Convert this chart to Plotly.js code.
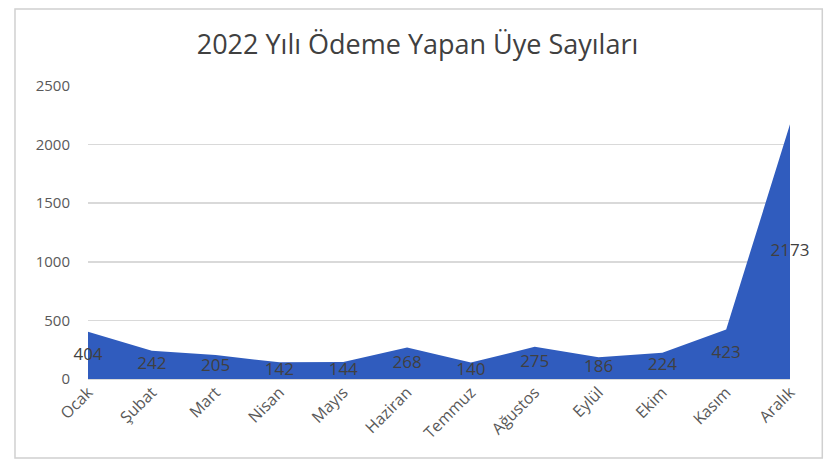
<!DOCTYPE html>
<html><head><meta charset="utf-8">
<script src="https://cdn.plot.ly/plotly-3.0.1.min.js"></script>
<style>html,body{margin:0;padding:0;background:#fff}#chart{width:835px;height:466px}</style>
</head><body><div id="chart"></div>
<script>
const months = ["Ocak","Şubat","Mart","Nisan","Mayıs","Haziran","Temmuz","Ağustos","Eylül","Ekim","Kasım","Aralık"];
const members = [404,242,205,142,144,268,140,275,186,224,423,2173];
const yTicks = [0,500,1000,1500,2000,2500];

const font = "Open Sans, DejaVu Sans, sans-serif";
const area = {
  type: "scatter", mode: "lines", x: months, y: members,
  fill: "tozeroy", fillcolor: "#305CBE",
  line: {color: "#305CBE", width: 0}, hoverinfo: "skip"
};
const labels = {
  type: "scatter", mode: "text", x: months, y: members.map(v => v / 2),
  text: members.map(String), textposition: "middle center", cliponaxis: false,
  textfont: {family: font, size: 17, color: "#404040"}, hoverinfo: "skip"
};
const layout = {
  width: 835, height: 466,
  margin: {l: 88, r: 45, t: 86, b: 87},
  paper_bgcolor: "#fff", plot_bgcolor: "#fff",
  showlegend: false,
  title: {text: "2022 Yılı Ödeme Yapan Üye Sayıları", x: 0.5, xanchor: "center", y: 0.905, yanchor: "middle",
          font: {family: font, size: 27, color: "#404040"}},
  xaxis: {type: "category", range: [0, 11], showgrid: false, zeroline: false,
          showline: false, tickangle: -45, ticks: "",
          tickfont: {family: font, size: 16, color: "#595959"}, fixedrange: true},
  yaxis: {range: [0, 2500], tickvals: yTicks, ticktext: yTicks.map(String),
          showgrid: true, gridcolor: "#d9d9d9", gridwidth: 1.5, zeroline: true, zerolinecolor: "#d9d9d9",
          ticks: "outside", ticklen: 14, tickcolor: "rgba(0,0,0,0)",
          tickfont: {family: font, size: 15, color: "#595959"}, fixedrange: true},
  shapes: [{type: "rect", xref: "paper", yref: "paper",
            x0: -0.104, x1: 1.046, y0: -0.27, y1: 1.263,
            line: {color: "#d0d0d0", width: 1.5}, fillcolor: "rgba(0,0,0,0)", layer: "below"}]
};
Plotly.newPlot("chart", [area, labels], layout, {displayModeBar: false, staticPlot: true});
</script></body></html>
